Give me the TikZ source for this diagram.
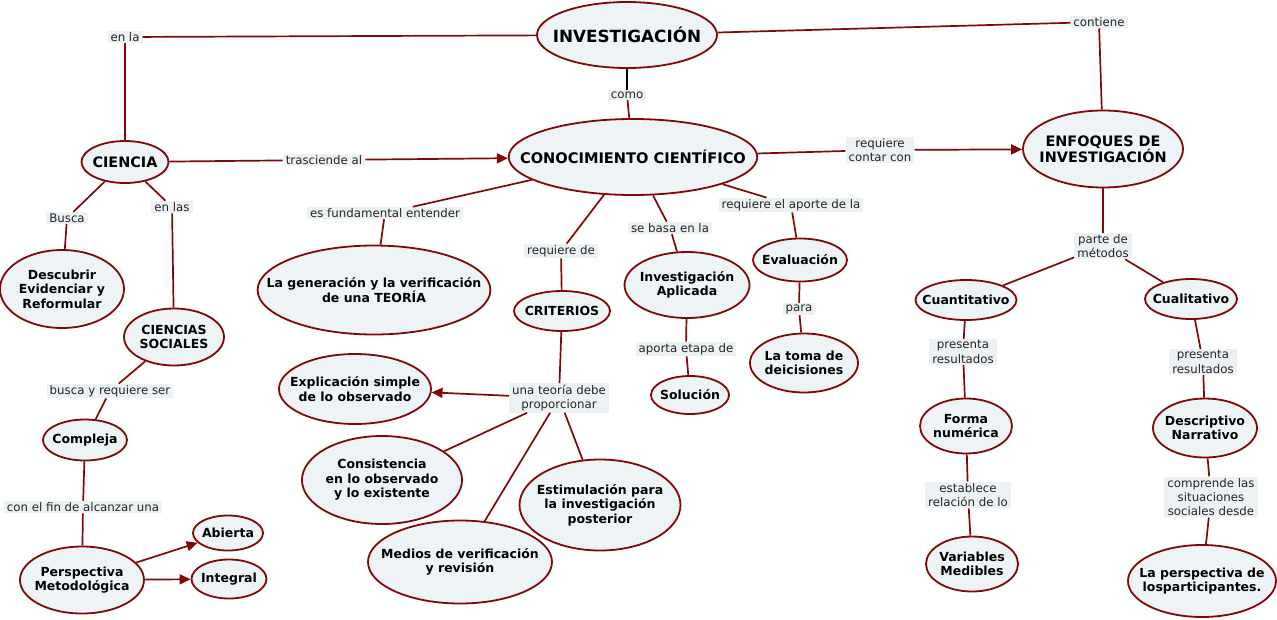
\documentclass[tikz,border=0pt]{standalone}
\usepackage{fontspec}
\setmainfont{DejaVu Sans}
\usepackage{tikz}
\usetikzlibrary{shapes.geometric,arrows.meta,positioning}
\definecolor{mapred}{RGB}{128,8,8}
\definecolor{conceptfill}{RGB}{238,243,245}
\definecolor{linkfill}{RGB}{236,241,243}

\begin{document}
\begin{tikzpicture}[x=1pt, y=-1pt, >={Triangle[length=11pt,width=10pt]}]
   \useasboundingbox (0,0) rectangle (1277,619);
   \begin{scope}[every node/.style={ellipse,draw=mapred,fill=conceptfill,line width=1.8pt,align=center,
       inner xsep=-25pt,inner ysep=0pt,font=\bfseries\fontsize{12.5}{14.5}\selectfont}]
    \node (inv) [minimum width=180pt, minimum height=66pt, font=\bfseries\fontsize{16.8}{18}\selectfont] at (627,35) {INVESTIGACIÓN};
    \node (conoc) [minimum width=248pt, minimum height=76pt, font=\bfseries\fontsize{14.6}{16}\selectfont] at (633,157) {CONOCIMIENTO CIENTÍFICO};
    \node (enfoques) [minimum width=160pt, minimum height=77pt, font=\bfseries\fontsize{14.4}{16}\selectfont] at (1103,149) {ENFOQUES DE\\INVESTIGACIÓN};
    \node (ciencia) [minimum width=87pt, minimum height=42pt, font=\bfseries\fontsize{14.4}{16}\selectfont] at (125,162) {CIENCIA};
    \node (descubrir) [minimum width=124pt, minimum height=78pt] at (62,289) {Descubrir\\Evidenciar y\\Reformular};
    \node (sociales) [minimum width=100pt, minimum height=57pt] at (174,337) {CIENCIAS\\SOCIALES};
    \node (compleja) [minimum width=84pt, minimum height=41pt] at (85,440) {Compleja};
    \node (perspectiva) [minimum width=124pt, minimum height=67pt] at (82,580) {Perspectiva\\Metodológica};
    \node (abierta) [minimum width=70pt, minimum height=35pt] at (228,533) {Abierta};
    \node (integral) [minimum width=75pt, minimum height=39pt] at (229,579) {Integral};
    \node (teoria) [minimum width=232pt, minimum height=89pt] at (374,290) {La generación y la verificación\\de una TEORÍA};
    \node (criterios) [minimum width=96pt, minimum height=40pt] at (562,311) {CRITERIOS};
    \node (explicacion) [minimum width=152pt, minimum height=70pt] at (355,389) {Explicación simple\\de lo observado};
    \node (consistencia) [minimum width=160pt, minimum height=88pt] at (382,480) {Consistencia\\en lo observado\\y lo existente};
    \node (medios) [minimum width=184pt, minimum height=83pt] at (460,562) {Medios de verificación\\y revisión};
    \node (estimulacion) [minimum width=161pt, minimum height=91pt] at (600,505) {Estimulación para\\la investigación\\posterior};
    \node (aplicada) [minimum width=125pt, minimum height=66pt] at (687,285) {Investigación\\Aplicada};
    \node (solucion) [minimum width=78pt, minimum height=38pt] at (690,395) {Solución};
    \node (evaluacion) [minimum width=94pt, minimum height=43pt] at (800,260) {Evaluación};
    \node (toma) [minimum width=108pt, minimum height=59pt] at (804,363) {La toma de\\deicisiones};
    \node (cuanti) [minimum width=101pt, minimum height=40pt] at (966,300) {Cuantitativo};
    \node (cuali) [minimum width=92pt, minimum height=40pt] at (1191,299) {Cualitativo};
    \node (forma) [minimum width=92pt, minimum height=55pt] at (966,426) {Forma\\numérica};
    \node (variables) [minimum width=92pt, minimum height=55pt] at (972,564) {Variables\\Medibles};
    \node (descriptivo) [minimum width=104pt, minimum height=59pt] at (1205,428) {Descriptivo\\Narrativo};
    \node (participantes) [minimum width=148pt, minimum height=72pt] at (1202,581) {La perspectiva de\\losparticipantes.};
   \end{scope}
   \begin{scope}[every node/.style={fill=linkfill,inner xsep=3pt,inner ysep=1.5pt,align=center,
       text=black!85,font=\fontsize{11.8}{14.3}\selectfont}]
    \node (enla) at (125,37) {en la};
    \node (contiene) at (1099,22) {contiene};
    \node (como) at (627,95) {como};
    \node (trasciende) at (324,160) {trasciende al};
    \node (contar) at (880,150) {requiere\\contar con};
    \node (busca) at (67,218) {Busca};
    \node (enlas) at (172,207) {en las};
    \node (requiereser) at (110,391) {busca y requiere ser};
    \node (alcanzar) at (83,507) {con el fin de alcanzar una};
    \node (entender) at (385,213) {es fundamental entender};
    \node (requierede) at (561,251) {requiere de};
    \node (proporcionar) at (559,398) {una teoría debe\\proporcionar};
    \node (basa) at (670,228) {se basa en la};
    \node (etapa) at (686,349) {aporta etapa de};
    \node (aporte) at (791,205) {requiere el aporte de la};
    \node (para) at (799,309) {para};
    \node (metodos) at (1103,246) {parte de\\métodos};
    \node (presentacn) at (963,352) {presenta\\resultados};
    \node (establece) at (968,495) {establece\\relación de lo};
    \node (presentacl) at (1203,362) {presenta\\resultados};
    \node (comprende) at (1211,497) {comprende las\\situaciones\\sociales desde};
   \end{scope}
   \begin{scope}[every edge/.style={draw=mapred,line width=1.7pt}]
    \draw (inv) edge (enla) (enla) edge (ciencia);
    \draw (inv) edge (contiene) (contiene) edge (enfoques);
    \draw (inv) edge [draw=black] (como) (como) edge (conoc);
    \draw (ciencia) edge (trasciende) (trasciende) edge [->] (conoc);
    \draw (conoc) edge (contar) (contar) edge [->] (enfoques);
    \draw (ciencia) edge (busca) (busca) edge (descubrir);
    \draw (ciencia) edge (enlas) (enlas) edge (sociales);
    \draw (sociales) edge (requiereser) (requiereser) edge (compleja);
    \draw (compleja) edge (alcanzar) (alcanzar) edge (perspectiva);
    \draw (perspectiva) edge [->] (abierta);
    \draw (perspectiva) edge [->] (integral);
    \draw (conoc) edge (entender) (entender) edge (teoria);
    \draw (conoc) edge (requierede) (requierede) edge (criterios);
    \draw (criterios) edge (proporcionar);
    \draw (proporcionar) edge [->] (explicacion);
    \draw (proporcionar) edge (consistencia);
    \draw (proporcionar) edge (medios);
    \draw (proporcionar) edge (estimulacion);
    \draw (conoc) edge (basa) (basa) edge (aplicada);
    \draw (aplicada) edge (etapa) (etapa) edge (solucion);
    \draw (conoc) edge (aporte) (aporte) edge (evaluacion);
    \draw (evaluacion) edge (para) (para) edge (toma);
    \draw (enfoques) edge (metodos);
    \draw (metodos) edge (cuanti);
    \draw (metodos) edge (cuali);
    \draw (cuanti) edge (presentacn) (presentacn) edge (forma);
    \draw (forma) edge (establece) (establece) edge (variables);
    \draw (cuali) edge (presentacl) (presentacl) edge (descriptivo);
    \draw (descriptivo) edge (comprende) (comprende) edge (participantes);
   \end{scope}
\end{tikzpicture}
\end{document}
